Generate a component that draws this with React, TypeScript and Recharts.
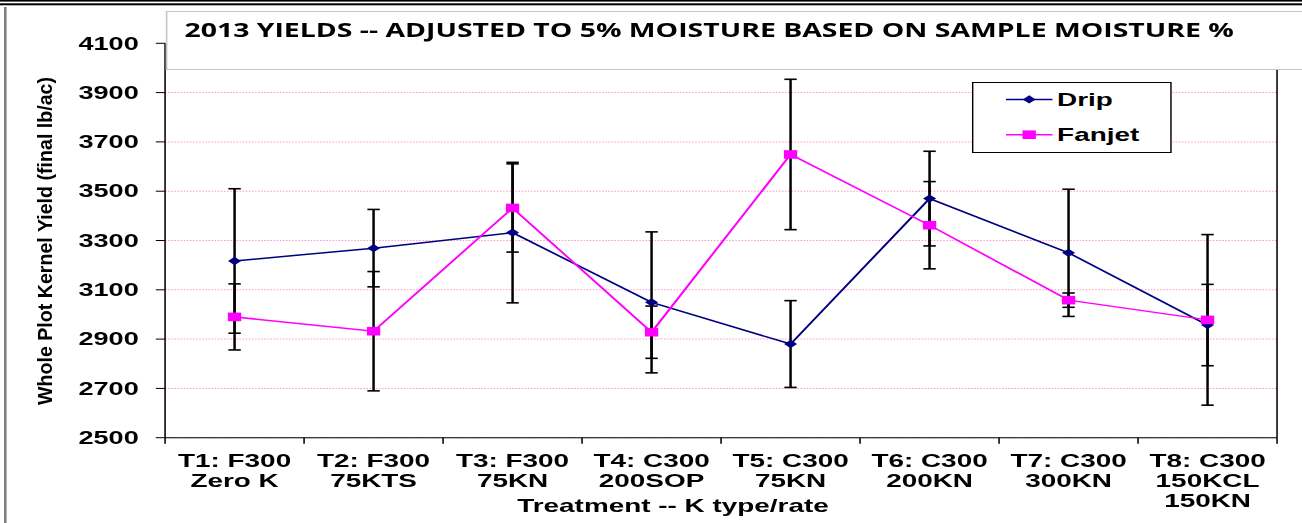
import React from "react";
import { LineChart, Line, XAxis, YAxis, CartesianGrid, ErrorBar, Legend, ReferenceLine } from "recharts";

// the source picture is stretched sideways, so the chart is drawn narrow and scaled on x
const S = 1.55;
const W = 840;
const H = 523;

const positions = [1, 2, 3, 4, 5, 6, 7, 8];
const tickLabels = [
  ["T1: F300", "Zero K"],
  ["T2: F300", "75KTS"],
  ["T3: F300", "75KN"],
  ["T4: C300", "200SOP"],
  ["T5: C300", "75KN"],
  ["T6: C300", "200KN"],
  ["T7: C300", "300KN"],
  ["T8: C300", "150KCL", "150KN"],
];
const drip = [3217, 3269, 3332, 3049, 2880, 3470, 3250, 2957];
const dripErr = [293, 157, 285, 286, 176, 192, 258, 165];
const fanjet = [2990, 2932, 3432, 2928, 3649, 3362, 3058, 2978];
const fanjetErr = [134, 242, 179, 106, 305, 177, 29, 346];
const yTicks = [2500, 2700, 2900, 3100, 3300, 3500, 3700, 3900, 4100];
const xTicks = [0.5, 1.5, 2.5, 3.5, 4.5, 5.5, 6.5, 7.5, 8.5];

const rows = positions.map((p, i) => ({
  pos: p,
  drip: drip[i],
  dripErr: dripErr[i],
  fanjet: fanjet[i],
  fanjetErr: fanjetErr[i],
}));

const PLOT_L = 106.5;
const PLOT_R = 823.9;
const CAT_W = (PLOT_R - PLOT_L) / 8;
const FONT = "'Liberation Sans', Arial, sans-serif";

function Diamond(props: any) {
  const { cx, cy, index } = props;
  if (cx == null || cy == null) return <g key={index} />;
  const r = 4.2;
  return (
    <polygon
      key={index}
      points={`${cx},${cy - r} ${cx + r},${cy} ${cx},${cy + r} ${cx - r},${cy}`}
      fill="#000080"
    />
  );
}

function Square(props: any) {
  const { cx, cy, index } = props;
  if (cx == null || cy == null) return <g key={index} />;
  return <rect key={index} x={cx - 4.3} y={cy - 4.3} width={8.6} height={8.6} fill="#ff00ff" />;
}

function XTick(props: any) {
  const { x, y, payload } = props;
  const idx = Math.round(payload.value - 0.5);
  const lines = tickLabels[idx];
  if (!lines) return <g />;
  return (
    <text x={x + CAT_W / 2} y={y} textAnchor="middle" fontFamily={FONT} fontWeight="bold" fontSize={18} fill="#000">
      {lines.map((t, i) => (
        <tspan key={i} x={x + CAT_W / 2} y={y + 21 + i * 20}>
          {t}
        </tspan>
      ))}
    </text>
  );
}

function LegendBox() {
  return (
    <svg width={129} height={71} style={{ display: "block" }}>
      <rect x={0.5} y={0.5} width={128} height={70} fill="#fff" stroke="#000" strokeWidth={1} />
      <line x1={22} x2={52} y1={17.4} y2={17.4} stroke="#000080" strokeWidth={1.5} />
      <polygon points="37,13.2 41.2,17.4 37,21.6 32.8,17.4" fill="#000080" />
      <text x={55} y={23.7} fontFamily={FONT} fontWeight="bold" fontSize={18} fill="#000">
        Drip
      </text>
      <line x1={22} x2={52} y1={52.7} y2={52.7} stroke="#ff00ff" strokeWidth={1.5} />
      <rect x={32.7} y={48.4} width={8.6} height={8.6} fill="#ff00ff" />
      <text x={55} y={59} fontFamily={FONT} fontWeight="bold" fontSize={18} fill="#000">
        Fanjet
      </text>
    </svg>
  );
}

export default function App() {
  return (
    <div style={{ position: "fixed", left: 0, top: 0, width: 1302, height: H, background: "#fff", overflow: "hidden" }}>
      <div
        style={{
          position: "absolute",
          left: 0,
          top: 0,
          width: W,
          height: H,
          transform: `scaleX(${S})`,
          transformOrigin: "0 0",
        }}
      >
        <LineChart width={W} height={H} data={rows} margin={{ top: 43.3, right: 16.1, bottom: 25.3, left: 46.5 }}>
          <CartesianGrid horizontal vertical={false} stroke="#ff99cc" strokeDasharray="1 1" />
          <XAxis
            type="number"
            dataKey="pos"
            domain={[0.5, 8.5]}
            ticks={xTicks}
            interval={0}
            height={60}
            tick={<XTick />}
            tickSize={6}
            axisLine={{ stroke: "#000" }}
            tickLine={{ stroke: "#000" }}
            label={(p: any) => {
              const vb = p.viewBox;
              return (
                <text
                  x={vb.x + vb.width / 2 - 31}
                  y={vb.y + 74}
                  textAnchor="middle"
                  fontFamily={FONT}
                  fontWeight="bold"
                  fontSize={18}
                  fill="#000"
                >
                  Treatment -- K type/rate
                </text>
              );
            }}
          />
          <YAxis
            type="number"
            domain={[2500, 4100]}
            ticks={yTicks}
            interval={0}
            width={60}
            tickSize={6}
            tickMargin={11}
            axisLine={{ stroke: "#000" }}
            tickLine={{ stroke: "#000" }}
            tick={{ fontFamily: FONT, fontWeight: "bold", fontSize: 17.5, fill: "#000" }}
          />
          <ReferenceLine x={8.5} stroke="#000" strokeWidth={1} />
          <Legend
            layout="vertical"
            align="center"
            verticalAlign="middle"
            wrapperStyle={{ left: 626.5, top: 82, width: 129, height: 71 }}
            content={() => <LegendBox />}
          />
          <Line
            type="linear"
            dataKey="drip"
            name="Drip"
            stroke="#000080"
            strokeWidth={1.5}
            dot={(p: any) => <Diamond {...p} key={p.index} />}
            activeDot={false}
            isAnimationActive={false}
          >
            <ErrorBar dataKey="dripErr" direction="y" width={4} stroke="#000" strokeWidth={1.6} />
          </Line>
          <Line
            type="linear"
            dataKey="fanjet"
            name="Fanjet"
            stroke="#ff00ff"
            strokeWidth={1.5}
            dot={(p: any) => <Square {...p} key={p.index} />}
            activeDot={false}
            isAnimationActive={false}
          >
            <ErrorBar dataKey="fanjetErr" direction="y" width={4} stroke="#000" strokeWidth={1.6} />
          </Line>
        </LineChart>
        <div
          style={{
            position: "absolute",
            left: PLOT_L,
            top: 11,
            width: W - PLOT_L,
            height: 59,
            boxSizing: "border-box",
            border: "1px solid #c4c4c4",
            borderRight: "none",
            background: "#fff",
          }}
        >
          <svg width={W - PLOT_L} height={57} style={{ display: "block" }}>
            <text
              x={11}
              y={25}
              fontFamily="'Open Sans', sans-serif"
              fontWeight="bold"
              fontSize={19}
              fill="#000"
              textLength={677}
              lengthAdjust="spacingAndGlyphs"
            >
              2013 YIELDS -- ADJUSTED TO 5% MOISTURE BASED ON SAMPLE MOISTURE %
            </text>
          </svg>
        </div>
      </div>
      <svg width={1302} height={H} style={{ position: "absolute", left: 0, top: 0, pointerEvents: "none" }}>
        <rect x={0} y={0} width={1302} height={1.6} fill="#000" />
        <rect x={0} y={3.3} width={1302} height={2} fill="#000" />
        <rect x={4} y={7} width={2.6} height={H - 7} fill="#808080" />
        <text
          x={52}
          y={241}
          transform="rotate(-90, 52, 241)"
          textAnchor="middle"
          fontFamily={FONT}
          fontWeight="bold"
          fontSize={21}
          fill="#000"
          textLength={328}
          lengthAdjust="spacingAndGlyphs"
        >
          Whole Plot Kernel Yield (final lb/ac)
        </text>
      </svg>
    </div>
  );
}
